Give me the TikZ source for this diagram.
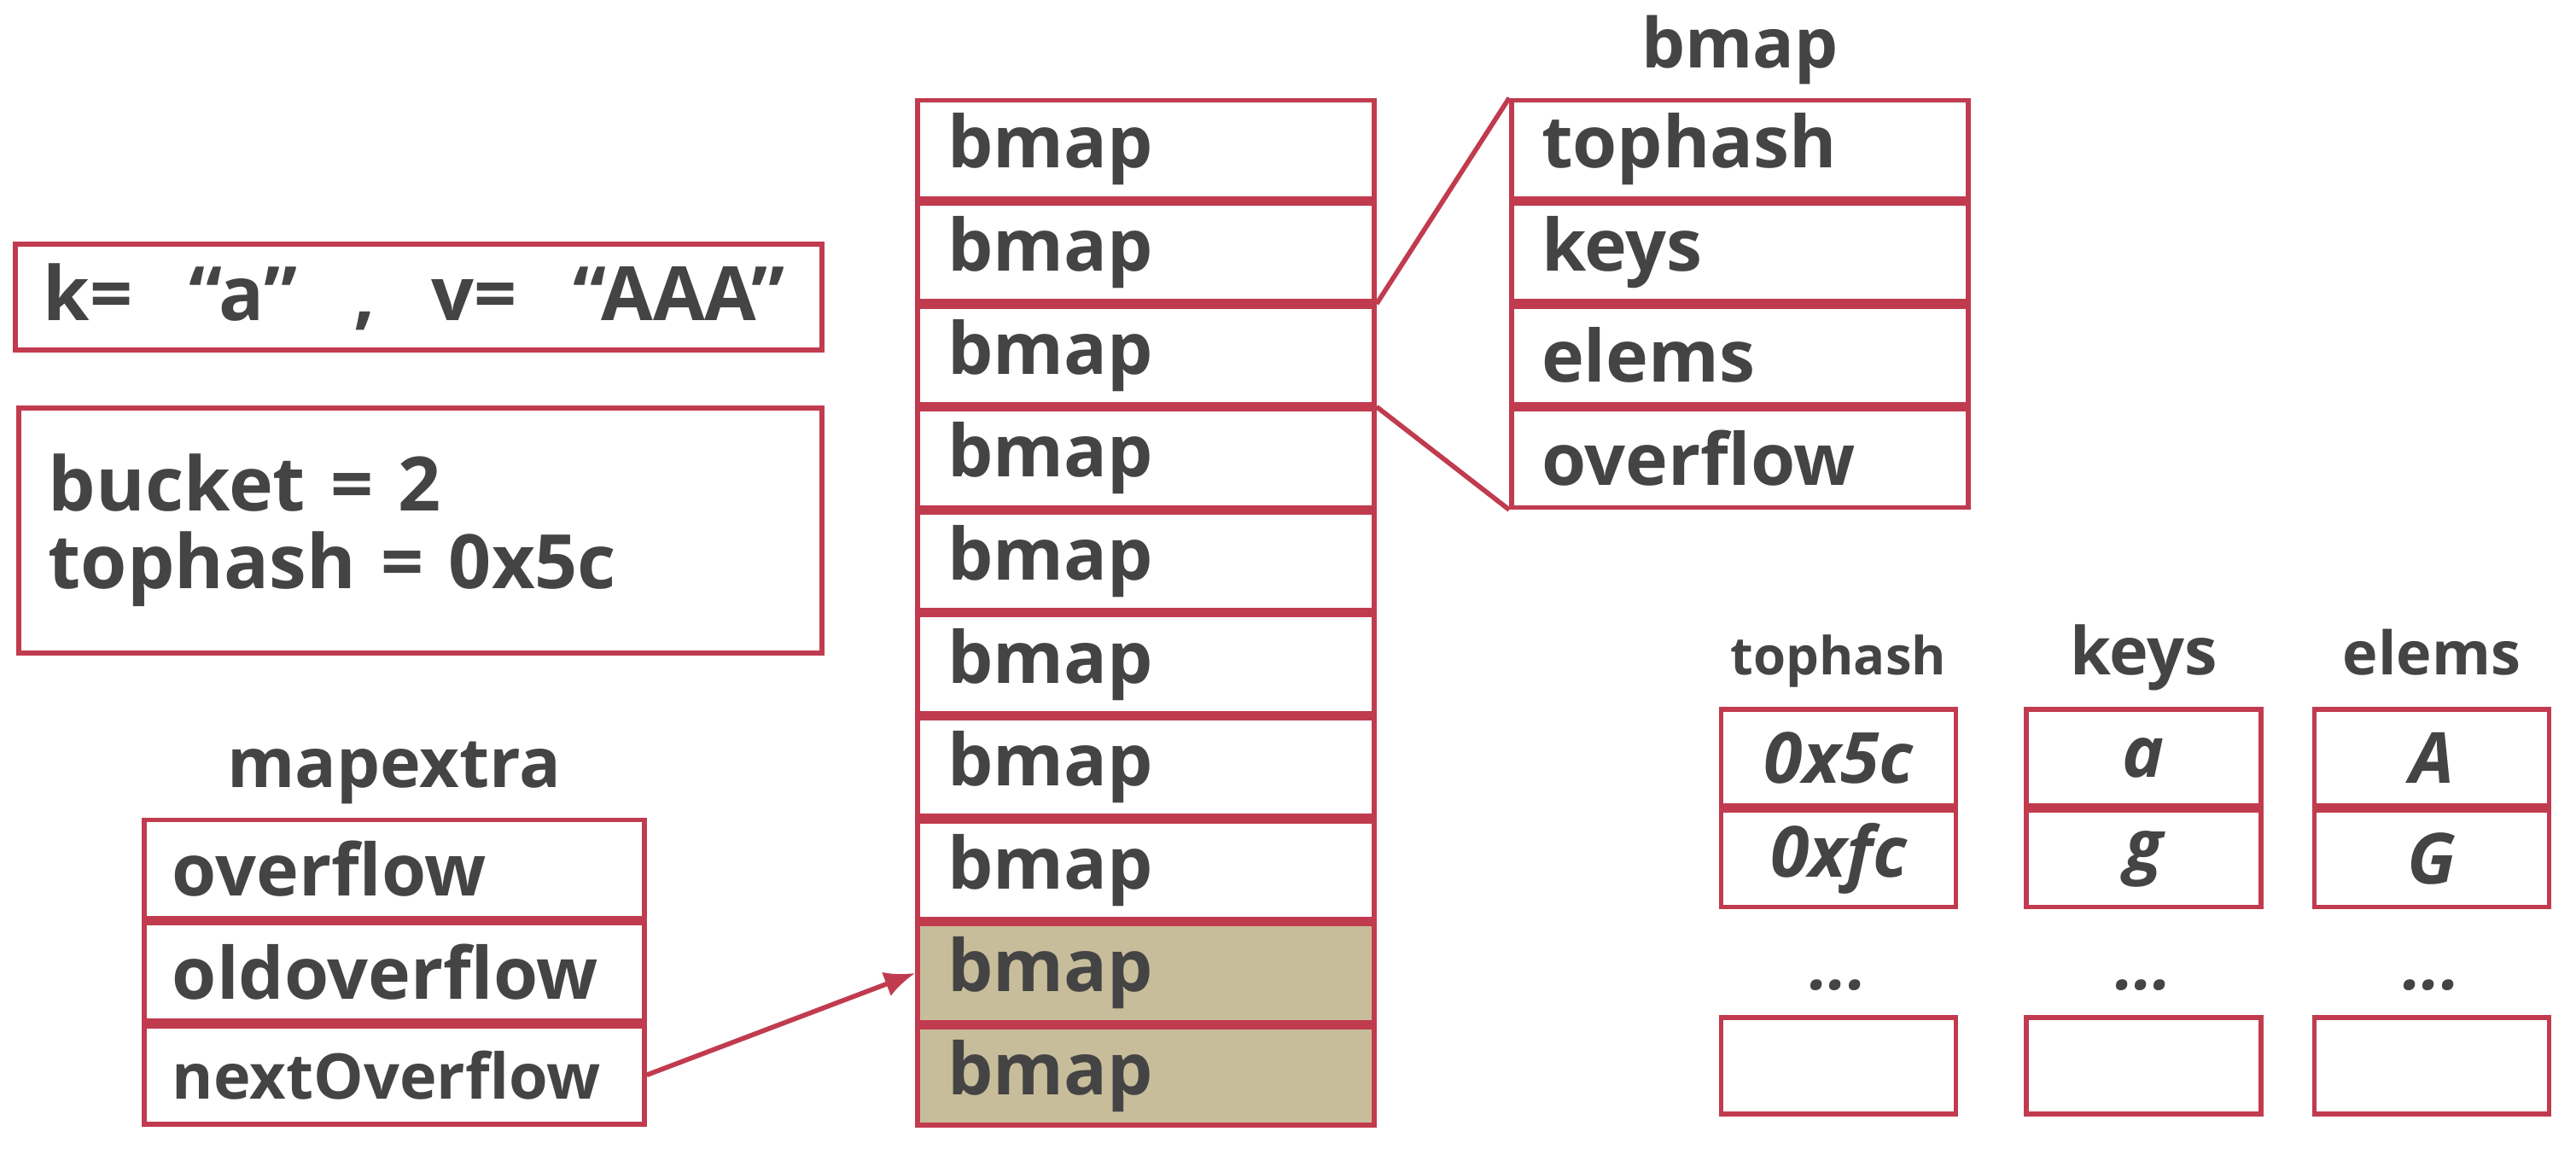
\documentclass[tikz,border=0pt]{standalone}
\usepackage{fontspec}
\setmainfont{Open Sans}
\usepackage{xcolor}
\usetikzlibrary{positioning, arrows.meta}
\definecolor{cellline}{HTML}{C13B4F}
\definecolor{celltext}{HTML}{444444}
\definecolor{cellshade}{HTML}{C8BD9A}
\newcommand{\kvgap}{\hspace{.75em}}

\begin{document}
\begin{tikzpicture}[line width=1.6pt, text=celltext,
  cell/.style={draw=cellline, fill=white, minimum height=11.5mm, inner xsep=3.5mm, inner ysep=0pt,
    text width=46.5mm, align=left, font=\fontsize{24}{28}\selectfont\bfseries},
  xcell/.style={cell, text width=52mm, inner xsep=3.3mm},
  tcell/.style={draw=cellline, fill=white, minimum width=27.5mm, minimum height=11.3mm, inner sep=0pt,
    font=\fontsize{23.5}{27}\selectfont\bfseries\itshape},
  ttl/.style={inner sep=0pt, font=\fontsize{23}{27}\selectfont\bfseries}]
\useasboundingbox (0,0) rectangle (30.18,-13.46);

% key / value and hash result
\node[draw=cellline, anchor=north west, minimum height=12.4mm, inner xsep=3.3mm, text width=87.9mm, align=left,
  font=\fontsize{25}{29}\selectfont\bfseries](kv) at (0.15,-2.83)
  {k=\kvgap“a”\kvgap,\kvgap v=\kvgap“AAA”};
\node[draw=cellline, anchor=north west, minimum height=28.7mm, inner xsep=3.5mm, text width=87.1mm, align=left,
  font=\fontsize{25}{26}\selectfont\bfseries](hres) at (0.19,-4.75)
  {bucket = 2\\tophash = 0x5c};

% buckets array
\node[cell](b1) at (13.425,-1.75){bmap};
\foreach \i [remember=\i as \p (initially 1)] in {2,...,8}{
  \node[cell,below=0pt of b\p](b\i){bmap};}
\node[cell,fill=cellshade,below=0pt of b8](b9){bmap};
\node[cell,fill=cellshade,below=0pt of b9](b10){bmap};

% one bmap struct
\node[cell](s1) at (20.385,-1.75){tophash};
\node[cell,below=0pt of s1](s2){keys};
\node[cell,below=0pt of s2](s3){elems};
\node[cell,below=0pt of s3](s4){overflow};
\node[ttl,above=3.5mm of s1,anchor=base](stitle){bmap};

\draw[cellline](b2.south east)--(s1.north west);
\draw[cellline](b3.south east)--(s4.south west);

% mapextra
\node[xcell](m1) at (4.62,-10.18){overflow};
\node[xcell,below=0pt of m1](m2){oldoverflow};
\node[xcell,below=0pt of m2,font=\fontsize{21}{25}\selectfont\bfseries](m3){nextOverflow};
\node[ttl,above=3.5mm of m1,anchor=base](mtitle){mapextra};

\draw[cellline,-{Latex[length=3.6mm,width=3mm]}](m3.east)--(b9.west);

% tophash / keys / elems
\node[tcell](th1) at (21.54,-8.875){0x5c};
\node[tcell,below=0pt of th1](th2){0xfc};
\node[tcell,below=12.4mm of th2](th3){};
\node[tcell](k1) at (25.115,-8.875){a};
\node[tcell,below=0pt of k1](k2){g};
\node[tcell,below=12.4mm of k2](k3){};
\node[tcell](e1) at (28.49,-8.875){A};
\node[tcell,below=0pt of e1](e2){G};
\node[tcell,below=12.4mm of e2](e3){};

\node[ttl,above=3.8mm of th1,anchor=base,font=\fontsize{17.5}{21}\selectfont\bfseries](thtitle){tophash};
\node[ttl,above=3.8mm of k1,anchor=base,font=\fontsize{22}{26}\selectfont\bfseries](ktitle){keys};
\node[ttl,above=3.8mm of e1,anchor=base,font=\fontsize{20}{24}\selectfont\bfseries](etitle){elems};

\foreach \c in {th3,k3,e3}{
  \node[ttl,above=3mm of \c,anchor=base,font=\fontsize{22}{26}\selectfont\bfseries\itshape](dots\c){...};}

\end{tikzpicture}
\end{document}
